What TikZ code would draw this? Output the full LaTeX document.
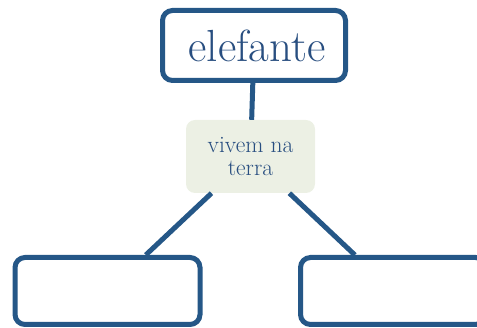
\documentclass[tikz,border=0pt]{standalone}
\usepackage{xcolor}
\usepackage{tikz}
\usetikzlibrary{positioning}
\definecolor{myblue}{RGB}{37,87,135}
\definecolor{mytext}{RGB}{40,78,128}
\definecolor{mygreen}{RGB}{236,240,228}
\tikzset{
  mapbox/.style={rectangle, draw=myblue, fill=white, line width=5pt,
    rounded corners=10pt, minimum width=183pt, minimum height=70pt,
    inner sep=0pt},
  linkbox/.style={rectangle, fill=mygreen, rounded corners=9pt,
    minimum width=129pt, minimum height=73pt, align=center,
    text=mytext, inner sep=0pt},
  link/.style={line width=5pt, color=myblue}
}
\begin{document}
\begin{tikzpicture}[x=1pt, y=-1pt]
    \useasboundingbox (0,0) rectangle (477,328);

    % concept boxes
    \node[mapbox, text=mytext, font=\fontsize{45}{52}\selectfont, text depth=0pt] (elefante) at (254,45.5) {\hspace{6pt}elefante};
    \node[linkbox, font=\fontsize{23.5}{23}\selectfont] (vivem) at (250.5,156.5) {\raisebox{-4pt}{vivem na}\\\raisebox{-4pt}{terra}};
    \node[mapbox, minimum width=185pt, minimum height=67pt] (esq) at (107.5,291) {};
    \node[mapbox, minimum width=185pt, minimum height=67pt] (dir) at (393,291) {};

    % links
    \draw[link] (elefante) -- (vivem);
    \draw[link] (vivem) -- (esq);
    \draw[link] (vivem) -- (dir);
\end{tikzpicture}
\end{document}
